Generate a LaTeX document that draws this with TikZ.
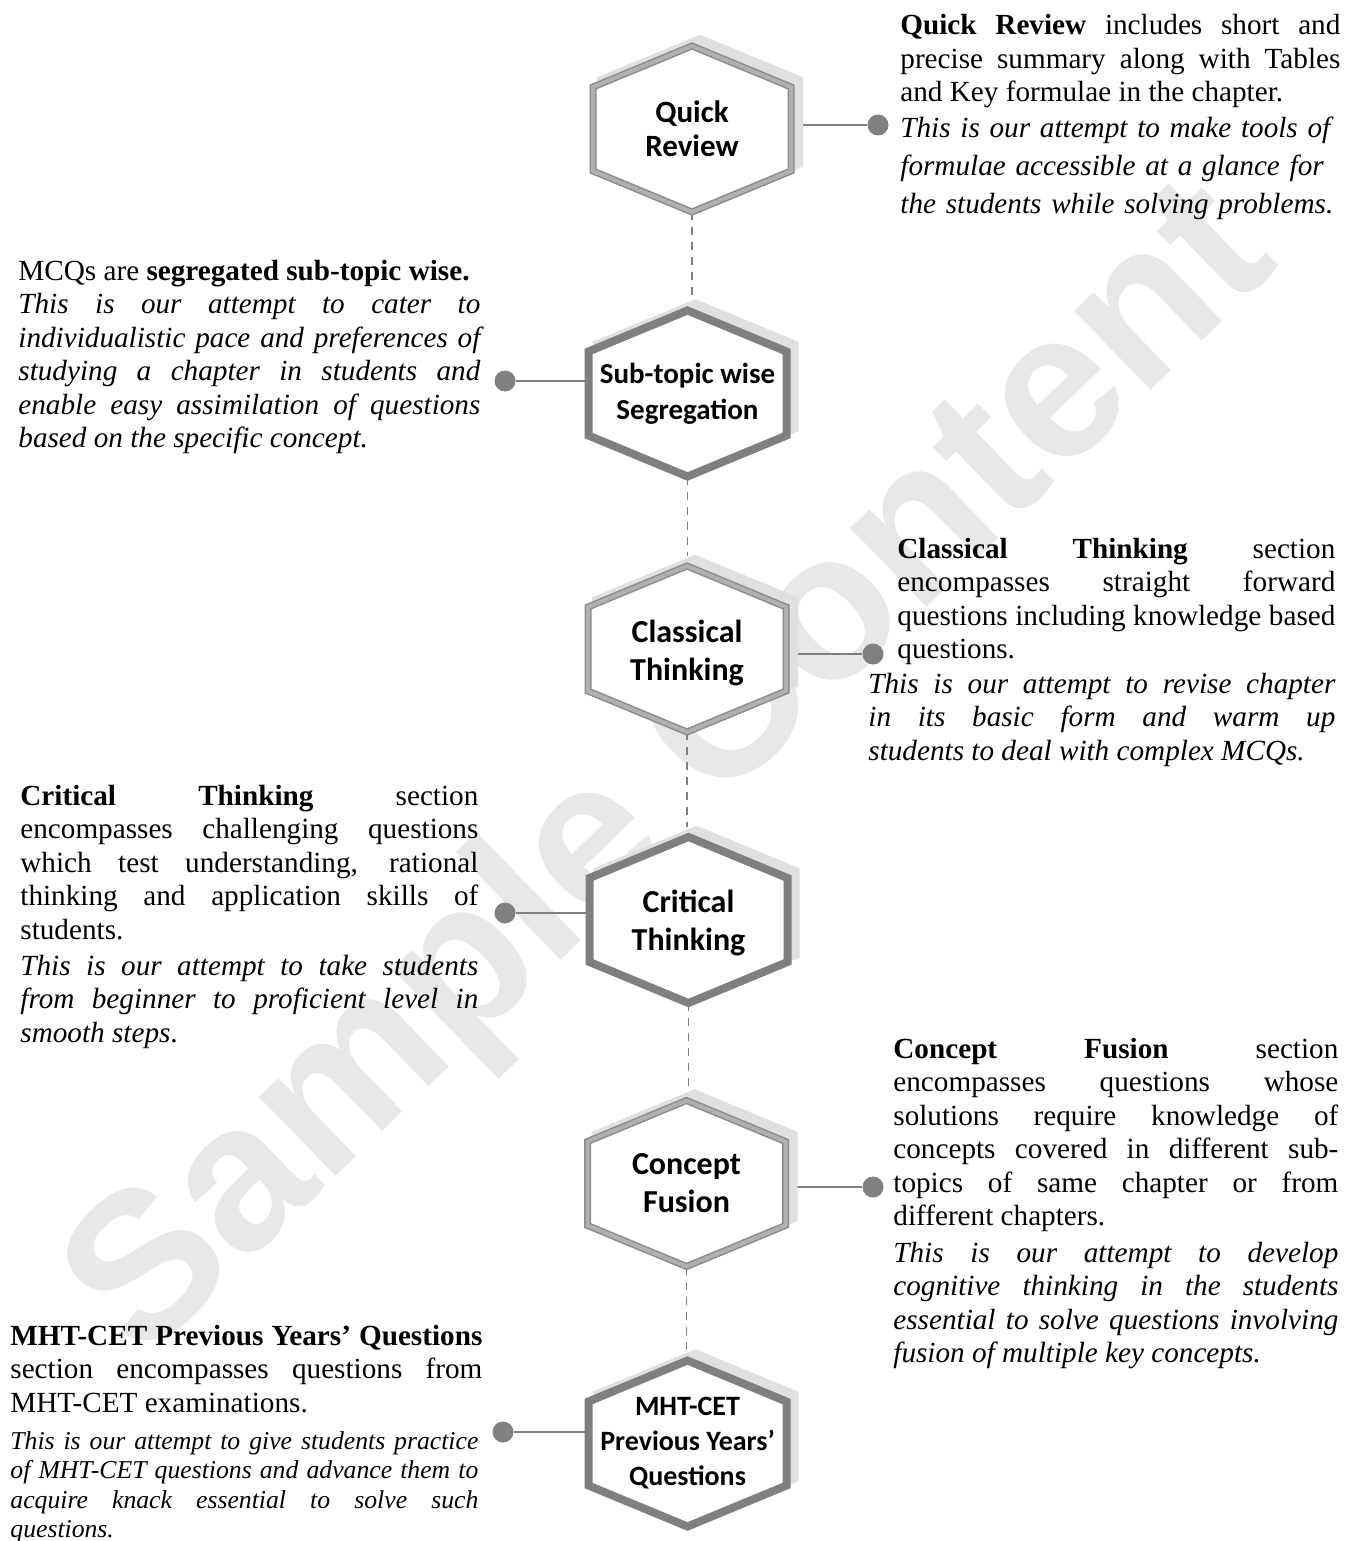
\documentclass[tikz,border=0pt]{standalone}
\usepackage{fontspec}
\setmainfont{Liberation Serif}
\newfontfamily\labelfont{Carlito}
\newfontfamily\markfont{Liberation Sans}
\usetikzlibrary{calc, backgrounds}

\definecolor{hexgray}{RGB}{127,127,129}
\definecolor{rimgray}{RGB}{140,140,142}
\definecolor{bandgray}{RGB}{176,176,178}
\definecolor{shadegray}{RGB}{224,224,226}
\definecolor{markgray}{RGB}{232,232,232}
\definecolor{linkgray}{RGB}{128,128,130}

\tolerance=10000
\hbadness=10000
\hyphenpenalty=10000

\newcommand\bodyfont{\fontsize{14.6}{16.75}\selectfont}

\begin{document}
\begin{tikzpicture}[x=0.5pt, y=-0.5pt,
		txt/.style={anchor=base west, inner sep=0pt, align=justify, font=\bodyfont},
		note/.style={txt, font=\bodyfont\itshape},
		tag/.style={inner sep=0pt, align=center, font=\labelfont\bfseries\fontsize{16}{19}\selectfont},
		smalltag/.style={tag, font=\labelfont\bfseries\fontsize{14.5}{18}\selectfont},
		blob/.style={circle, fill=linkgray, minimum size=10.5pt, inner sep=0pt},
		link/.style={draw=linkgray, line width=1pt},
		guide/.style={draw=linkgray, line width=0.75pt, dash pattern=on 4pt off 3.5pt, shorten >=5pt},
		lighthex/.style={draw=rimgray, line width=0.75pt, double=bandgray, double distance=2pt, fill=white},
		darkhex/.style={draw=hexgray, line width=4pt, fill=white},
		shade/.style={draw=shadegray, fill=shadegray, line width=4pt}]

	\useasboundingbox (0,0) rectangle (1345,1541);

	% hexagon labels
	\node[tag, font=\labelfont\bfseries\fontsize{15.5}{17}\selectfont] (qr) at (692,129) {Quick\\Review};
	\node[smalltag] (sub) at (687.5,393.5) {Sub-topic wise\\Segregation};
	\node[tag] (ct) at (687,653) {Classical\\Thinking};
	\node[tag] (crit) at (688.5,923) {Critical\\Thinking};
	\node[tag] (cf) at (686.5,1183.5) {Concept\\Fusion};
	\node[smalltag, font=\labelfont\bfseries\fontsize{14}{17.5}\selectfont] (mht) at (687.5,1443.5) {MHT-CET\\Previous Years’\\Questions};

	% dots
	\node[blob] (qr-dot) at (878,125) {};
	\node[blob] (sub-dot) at (505,381) {};
	\node[blob] (ct-dot) at (873,654) {};
	\node[blob] (crit-dot) at (505,913) {};
	\node[blob] (cf-dot) at (873,1187) {};
	\node[blob] (mht-dot) at (503,1432) {};

	% right column
	\node[txt, text width=220pt] (qr-text) at (900,35)
		{\textbf{Quick Review} includes short and\linebreak precise summary along with Tables\linebreak and Key formulae in the chapter.};
	\node[note, align=left, text width=222pt, font=\fontsize{14.6}{19}\selectfont\itshape] (qr-note) at (900,137)
		{This is our attempt to make tools of\\formulae accessible at a glance for\\the students while solving problems.};

	\node[txt, text width=219pt] (ct-text) at (897,558)
		{\textbf{Classical Thinking} section\linebreak encompasses straight forward\linebreak questions including knowledge based\linebreak questions.};
	\node[note, text width=233.5pt] (ct-note) at (868,693)
		{This is our attempt to revise chapter\linebreak in its basic form and warm up\linebreak students to deal with complex MCQs.};

	\node[txt, text width=222.5pt] (cf-text) at (893,1058)
		{\textbf{Concept Fusion} section\linebreak encompasses questions whose\linebreak solutions require knowledge of\linebreak concepts covered in different sub-\linebreak topics of same chapter or from\linebreak different chapters.};
	\node[note, text width=222.5pt] (cf-note) at (893,1262)
		{This is our attempt to develop\linebreak cognitive thinking in the students\linebreak essential to solve questions involving\linebreak fusion of multiple key concepts.};

	% left column
	\node[txt, text width=231pt] (sub-text) at (18,280)
		{MCQs are \textbf{segregated sub-topic wise.}};
	\node[note, text width=231pt] (sub-note) at (18,313.5)
		{This is our attempt to cater to\linebreak individualistic pace and preferences of\linebreak studying a chapter in students and\linebreak enable easy assimilation of questions\linebreak based on the specific concept.};

	\node[txt, text width=229pt] (crit-text) at (20,805)
		{\textbf{Critical Thinking} section\linebreak encompasses challenging questions\linebreak which test understanding, rational\linebreak thinking and application skills of\linebreak students.};
	\node[note, text width=229pt] (crit-note) at (20,975)
		{This is our attempt to take students\linebreak from beginner to proficient level in\linebreak smooth steps{\upshape .}};

	\node[txt, text width=236pt] (mht-text) at (10,1345)
		{\textbf{MHT-CET Previous Years’ Questions}\linebreak section encompasses questions from\linebreak MHT-CET examinations.};
	\node[note, text width=234pt, font=\fontsize{12.85}{14.75}\selectfont\itshape] (mht-note) at (10,1449)
		{This is our attempt to give students practice\linebreak of MHT-CET questions and advance them to\linebreak acquire knack essential to solve such\linebreak questions.};

	\begin{scope}[on background layer]
		\node[rotate=44, text=markgray, font=\markfont\bfseries\fontsize{104}{104}\selectfont] (mark) at (675,775) {Sample Content};

		% tips of the hexagons
		\foreach \n/\c in {qr/129, sub/393.5, ct/649, crit/920, cf/1183.5, mht/1443.5}
		{
			\coordinate (\n-mid) at (\n |- 0,\c);
			\coordinate (\n-top) at ($(\n-mid)+(0,-83)$);
			\coordinate (\n-bot) at ($(\n-mid)+(0,83)$);
		}

		\foreach \a/\b in {qr/sub, sub/ct, ct/crit, crit/cf, cf/mht}
			\draw[guide] (\a-bot) -- (\a-bot |- \b-top);

		\foreach \n in {qr, sub, ct, crit, cf, mht}
			\draw[link] (\n-dot) -- (\n-dot -| \n-mid);

		\foreach \n/\s in {qr/lighthex, sub/darkhex, ct/lighthex, crit/darkhex, cf/lighthex, mht/darkhex}
		{
			\begin{scope}[shift={(\n-mid)}]
				\draw[shade, shift={(8,-7)}] (-99,-42) -- (0,-83) -- (99,-42) -- (99,42) -- (0,83) -- (-99,42) -- cycle;
				\draw[\s] (-99,-42) -- (0,-83) -- (99,-42) -- (99,42) -- (0,83) -- (-99,42) -- cycle;
			\end{scope}
		}
	\end{scope}
\end{tikzpicture}
\end{document}
